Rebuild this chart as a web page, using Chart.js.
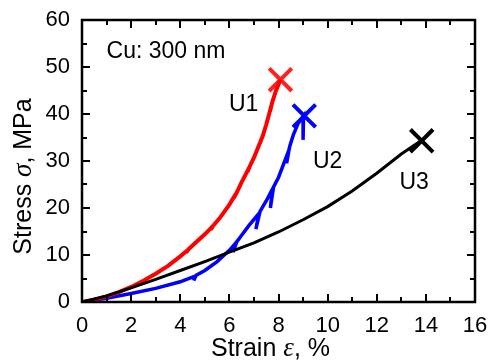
<!DOCTYPE html>
<html>
<head>
<meta charset="utf-8">
<script src="https://cdn.jsdelivr.net/npm/chart.js@4/dist/chart.umd.min.js"></script>
<style>
html,body{margin:0;padding:0;background:#fff;}
#c{display:block;}
</style>
</head>
<body>
<canvas id="c" width="495" height="362"></canvas>
<script>
// ---- data ----
const strainU1 = [0, 0.5, 1, 1.5, 2, 2.5, 3, 3.5, 4, 4.3, 4.24, 4.35, 4.5, 5, 5.3, 5.24, 5.35, 5.6, 6, 6.25, 6.18, 6.3, 6.5, 6.8, 6.74, 6.85, 7, 7.3, 7.24, 7.35, 7.5, 7.7, 7.65, 7.75, 7.9, 8.08];
const stressU1 = [0, 0.5, 1.2, 2.1, 3.2, 4.5, 6.0, 7.7, 9.7, 11.0, 10.5, 11.3, 12.0, 14.4, 16.0, 15.4, 16.3, 17.8, 20.7, 22.9, 22.1, 23.3, 25.5, 28.5, 27.7, 29.1, 30.7, 34.6, 33.7, 35.2, 37.7, 41.6, 40.5, 42.6, 45.0, 47.3];

const strainU2 = [0, 1, 2, 3, 4, 4.6, 4.55, 4.65, 5, 5.5, 6, 6.25, 6.15, 6.3, 6.5, 6.8, 7.2, 7.08, 7.25, 7.5, 7.75, 7.67, 7.8, 8, 8.4, 8.33, 8.45, 8.6, 8.8, 9.02, 9.0];
const stressU2 = [0, 0.8, 1.8, 2.9, 4.3, 5.5, 4.6, 5.7, 6.7, 8.6, 11.0, 12.5, 10.6, 12.8, 14.2, 16.3, 18.8, 15.5, 19.3, 21.5, 24.0, 20.0, 24.5, 26.5, 32.0, 29.5, 33.0, 35.5, 38.0, 39.6, 34.5];

const strainU3 = [0, 1, 2, 3, 4, 5, 6, 7, 8, 9, 10, 11, 12, 13, 13.8];
const stressU3 = [0, 1.3, 3.0, 4.8, 6.7, 8.6, 10.6, 12.6, 14.9, 17.5, 20.3, 23.6, 27.4, 31.5, 34.3];

// fracture points (strain, stress)
const breakU1 = [8.08, 47.3];
const breakU2 = [9.05, 39.6];
const breakU3 = [13.83, 34.3];

// tick labels
const xTicks = [0, 2, 4, 6, 8, 10, 12, 14, 16];
const yTicks = [0, 10, 20, 30, 40, 50, 60];
const xMinor = [0,1,2,3,4,5,6,7,8,9,10,11,12,13,14,15,16];
const yMinor = [0,5,10,15,20,25,30,35,40,45,50,55,60];

// labels placed in data units
const labels = [
  {text: 'Cu: 300 nm', x: 1.0, y: 53.3, align: 'left'},
  {text: 'U1', x: 6.58, y: 41.9, align: 'center'},
  {text: 'U2', x: 10.0, y: 29.8, align: 'center'},
  {text: 'U3', x: 13.52, y: 25.3, align: 'center'}
];

const toXY = (xs, ys) => xs.map((x, i) => ({x: x, y: ys[i]}));

const SANS = '"Liberation Sans", Arial, sans-serif';
const SERIF = '"Liberation Serif", "Times New Roman", serif';

const framePlugin = {
  id: 'frame',
  afterDatasetsDraw(chart) {
    const ctx = chart.ctx, a = chart.chartArea;
    const xs = chart.scales.x, ys = chart.scales.y;
    ctx.save();
    ctx.strokeStyle = '#000';
    ctx.lineWidth = 2;
    ctx.beginPath();
    xMinor.forEach(v => {
      const px = Math.round(xs.getPixelForValue(v));
      const len = (v % 2 === 0) ? 8 : 5;
      ctx.moveTo(px, a.bottom); ctx.lineTo(px, a.bottom - len);
      ctx.moveTo(px, a.top); ctx.lineTo(px, a.top + len);
    });
    yMinor.forEach(v => {
      const py = Math.round(ys.getPixelForValue(v));
      const len = (v % 10 === 0) ? 8 : 5;
      ctx.moveTo(a.left, py); ctx.lineTo(a.left + len, py);
      ctx.moveTo(a.right, py); ctx.lineTo(a.right - len, py);
    });
    ctx.stroke();
    ctx.lineWidth = 2.5;
    ctx.strokeRect(a.left, a.top, a.right - a.left, a.bottom - a.top);

    // in-plot labels
    ctx.fillStyle = '#000';
    ctx.font = '23px ' + SANS;
    ctx.textBaseline = 'middle';
    labels.forEach(l => {
      ctx.textAlign = l.align;
      ctx.fillText(l.text, xs.getPixelForValue(l.x), ys.getPixelForValue(l.y));
    });

    // axis titles with italic symbols
    function mixed(parts, x, y) {
      ctx.textAlign = 'left';
      ctx.textBaseline = 'alphabetic';
      let w = 0;
      parts.forEach(p => { ctx.font = p.f; w += ctx.measureText(p.t).width; });
      let cx = x - w / 2;
      parts.forEach(p => { ctx.font = p.f; ctx.fillText(p.t, cx, y); cx += ctx.measureText(p.t).width; });
    }
    const reg = '25px ' + SANS, ital = 'italic 27px ' + SERIF;
    mixed([{t: 'Strain ', f: reg}, {t: 'ε', f: ital}, {t: ', %', f: reg}], 270.5, 356);
    ctx.save();
    ctx.translate(31, 176.5);
    ctx.rotate(-Math.PI / 2);
    mixed([{t: 'Stress ', f: reg}, {t: 'σ', f: ital}, {t: ', MPa', f: reg}], 0, 0);
    ctx.restore();
    ctx.restore();
  }
};

new Chart(document.getElementById('c'), {
  type: 'scatter',
  data: {
    datasets: [
      {label: 'U3', data: toXY(strainU3, stressU3), showLine: true, borderColor: '#000000', borderWidth: 3, pointRadius: 0, tension: 0},
      {label: 'U1', data: toXY(strainU1, stressU1), showLine: true, borderColor: '#ff0000', borderWidth: 4, pointRadius: 0, tension: 0},
      {label: 'U2', data: toXY(strainU2, stressU2), showLine: true, borderColor: '#0000ff', borderWidth: 3.5, pointRadius: 0, tension: 0},
      {label: 'U1 break', data: [{x: breakU1[0], y: breakU1[1]}], showLine: false, pointStyle: 'crossRot', pointRadius: 16, borderWidth: 4, borderColor: '#ff2020', backgroundColor: '#ff2020'},
      {label: 'U2 break', data: [{x: breakU2[0], y: breakU2[1]}], showLine: false, pointStyle: 'crossRot', pointRadius: 16, borderWidth: 4, borderColor: '#0000ff', backgroundColor: '#0000ff'},
      {label: 'U3 break', data: [{x: breakU3[0], y: breakU3[1]}], showLine: false, pointStyle: 'crossRot', pointRadius: 16, borderWidth: 4, borderColor: '#000000', backgroundColor: '#000000'}
    ]
  },
  options: {
    responsive: false,
    devicePixelRatio: 1,
    animation: false,
    layout: {padding: {left: 0, right: 14, top: 16, bottom: 0}},
    plugins: {legend: {display: false}, tooltip: {enabled: false}},
    scales: {
      x: {
        type: 'linear', min: 0, max: 16,
        afterBuildTicks: s => { s.ticks = xTicks.map(v => ({value: v})); },
        afterFit: s => { s.height = 60; },
        ticks: {color: '#000', font: {family: SANS, size: 22}, padding: 3, maxRotation: 0},
        grid: {display: false},
        border: {display: false}
      },
      y: {
        type: 'linear', min: 0, max: 60,
        afterBuildTicks: s => { s.ticks = yTicks.map(v => ({value: v})); },
        afterFit: s => { s.width = 82; },
        ticks: {color: '#000', font: {family: SANS, size: 22}, padding: 4},
        grid: {display: false},
        border: {display: false}
      }
    }
  },
  plugins: [framePlugin]
});
</script>
</body>
</html>
